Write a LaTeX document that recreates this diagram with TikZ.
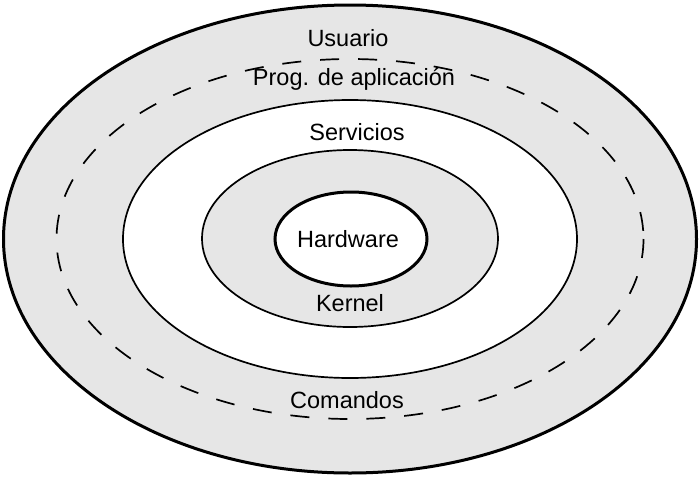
\documentclass[tikz,border=0pt]{standalone}
\usepackage{fontspec}
\setmainfont{Liberation Sans}
\definecolor{ringgray}{HTML}{E6E6E6}
\begin{document}
\begin{tikzpicture}[x=1pt,y=-1pt,
  lbl/.style={font=\fontsize{23.5}{27}\selectfont, inner sep=0pt, anchor=center},
  thickring/.style={draw=black, line width=3pt},
  thinring/.style={draw=black, line width=1.7pt}]
\useasboundingbox (0,0) rectangle (699,477);
\draw[thickring, fill=ringgray] (350,239) ellipse [x radius=346.5, y radius=234];
\draw[line width=1.7pt, dash pattern=on 19pt off 19pt] (350,239) ellipse [x radius=293.5, y radius=180];
\draw[thinring, fill=white] (350,239) ellipse [x radius=227, y radius=139];
\draw[thinring, fill=ringgray] (350,238.5) ellipse [x radius=148, y radius=88.5];
\draw[thickring, fill=white] (351,239) ellipse [x radius=76, y radius=47];
\node[lbl] (usuario) at (348,38) {Usuario};
\node[lbl] (prog) at (354,79) {Prog. de aplicación};
\node[lbl] (servicios) at (357,132) {Servicios};
\node[lbl] (hardware) at (348,239) {Hardware};
\node[lbl] (kernel) at (350,303) {Kernel};
\node[lbl] (comandos) at (347,400) {Comandos};
\end{tikzpicture}
\end{document}
